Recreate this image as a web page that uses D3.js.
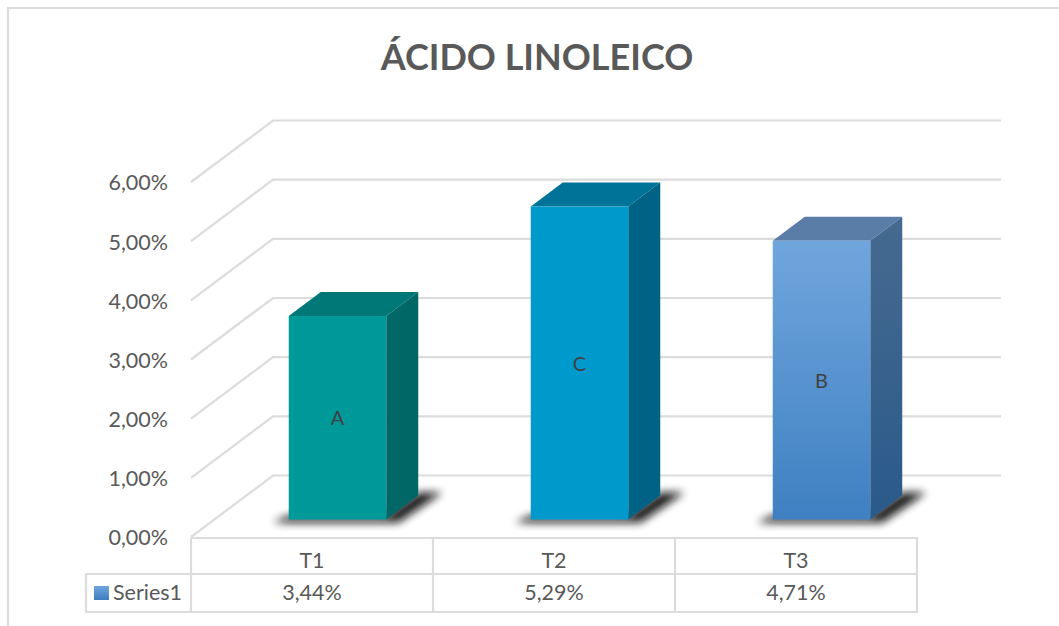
<!DOCTYPE html>
<html><head><meta charset="utf-8">
<script src="https://cdn.jsdelivr.net/npm/d3@7"></script>
<style>html,body{margin:0;background:#fff}svg{display:block}text{font-family:Lato,"Open Sans",sans-serif;fill:#595959}</style>
</head><body><script>
const categories = ["T1","T2","T3"];
const seriesName = "Series1";
const values = [3.44,5.29,4.71];
const valueLabels = ["3,44%","5,29%","4,71%"];
const letters = ["A","C","B"];
const yTicks = [0,1,2,3,4,5,6];
const titleText = "ÁCIDO LINOLEICO";
const frontColors = [["#009999","#009999"],["#0099cc","#0099cc"],["#70a6dd","#3f80c2"]];
const sideColors = [["#006666","#006666"],["#006285","#006285"],["#466a90","#2a5a8a"]];
const topColors = ["#007878","#007399","#5a7da8"];

const W=1059,H=626, dx=82, dy=62, bdx=32, bdy=24, barW=97.5, grid="#dcdcdc";
const svg=d3.select("body").append("svg").attr("width",W).attr("height",H);
const defs=svg.append("defs");
defs.append("filter").attr("id","blur").attr("x","-30%").attr("y","-100%").attr("width","160%").attr("height","300%")
  .append("feGaussianBlur").attr("stdDeviation",4.4);
function grad(id,c){const g=defs.append("linearGradient").attr("id",id).attr("x1",0).attr("y1",0).attr("x2",0).attr("y2",1);
  g.append("stop").attr("offset",0).attr("stop-color",c[0]);g.append("stop").attr("offset",1).attr("stop-color",c[1]);}
values.forEach((v,i)=>{grad("f"+i,frontColors[i]);grad("s"+i,sideColors[i]);});

// chart frame
svg.append("path").attr("d",`M8,${H} V8 H${W}`).attr("fill","none").attr("stroke",grid).attr("stroke-width",2.2);

const y=d3.scaleLinear().domain([0,6]).range([537,182]);
const x=d3.scaleBand().domain(categories).range([191,917]);
const barBase=519.5, barY=v=>barBase-(y(0)-y(v));

// gridlines: floor/side wall + back wall
const gl=svg.append("g").attr("fill","none").attr("stroke",grid).attr("stroke-width",2.2);
yTicks.forEach(t=>{
  gl.append("path").attr("d",`M191,${y(t)} L273,${y(t)-dy+0.5} H1001`).attr("stroke-linejoin","miter");
});

// tick labels
const axis=d3.axisLeft(y).tickValues(yTicks).tickSize(0).tickPadding(0)
  .tickFormat(d=>d3.format(".2f")(d).replace(".",",")+"%");
const ag=svg.append("g").attr("transform","translate(168,1)").call(axis);
ag.select(".domain").remove();
ag.selectAll("text").style("font-family","Lato").style("font-size","21.5px").attr("fill","#595959");

// bars
values.forEach((v,i)=>{
  const cx=x(categories[i])+x.bandwidth()/2+25.5, l=cx-barW/2, r=l+barW, t=barY(v), b=barBase;
  const g=svg.append("g");
  g.append("path").attr("d",`M${l-16},${b+3} H${r+12} L${r+bdx+24},${b-bdy-3} L${r+bdx},${b-bdy-3} L${r},${b-4} H${l} Z`)
    .attr("fill","#111").attr("opacity",0.95).attr("filter","url(#blur)");
  g.append("path").attr("d",`M${l},${t} L${l+bdx},${t-bdy} H${r+bdx} L${r},${t} Z`).attr("fill",topColors[i]);
  g.append("path").attr("d",`M${r},${t} L${r+bdx},${t-bdy} V${b-bdy} L${r},${b} Z`).attr("fill",`url(#s${i})`);
  g.append("rect").attr("x",l).attr("y",t).attr("width",barW).attr("height",b-t).attr("fill",`url(#f${i})`);
  g.append("text").attr("x",cx).attr("y",(t+b)/2+7.5).attr("text-anchor","middle").style("font-size","20px").style("fill","#404040").text(letters[i]);
});

// data table
const tb=svg.append("g").attr("fill","none").attr("stroke",grid).attr("stroke-width",2.2);
const rowT=538,rowM=574,rowB=612,legL=86;
tb.append("path").attr("d",`M191,${rowT} H917 V${rowB} H${legL} V${rowM} H917`);
[191,...categories.map(c=>x(c)+x.bandwidth()).slice(0,2)].forEach(px=>tb.append("path").attr("d",`M${px},${rowT} V${rowB}`));
categories.forEach((c,i)=>{
  const cx=x(c)+x.bandwidth()/2;
  svg.append("text").attr("x",cx).attr("y",567.5).attr("text-anchor","middle").style("font-size","21.5px").text(c);
  svg.append("text").attr("x",cx).attr("y",600).attr("text-anchor","middle").style("font-size","21.5px").text(valueLabels[i]);
});
grad("leg",["#6ea5dc","#3d7ebf"]);
svg.append("rect").attr("x",94).attr("y",586).attr("width",15).attr("height",14).attr("fill","url(#leg)");
svg.append("text").attr("x",113).attr("y",600).style("font-size","21.5px").text(seriesName);

svg.append("text").attr("x",537).attr("y",70).attr("text-anchor","middle").style("font-size","36px").style("font-weight",700).text(titleText);
</script></body></html>
